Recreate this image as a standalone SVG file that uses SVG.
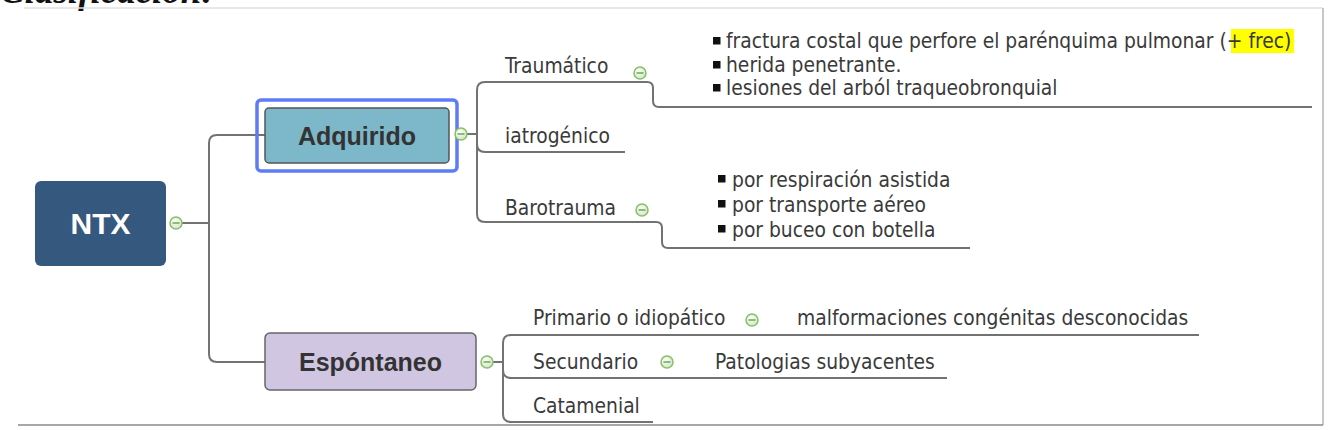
<svg xmlns="http://www.w3.org/2000/svg" width="1334" height="430" viewBox="0 0 1334 430">
<style>
.lbl{font-family:"DejaVu Sans Condensed","DejaVu Sans",sans-serif;font-stretch:condensed;font-size:20.8px;fill:#3a3a3a}
.big{font-family:"Liberation Sans",Arial,sans-serif;font-weight:bold;font-size:25px;fill:#333;text-anchor:middle}
.con{fill:none;stroke:#727272;stroke-width:2}
.frame{fill:none;stroke-width:1.5}
.bul{fill:#111}
</style>
<defs>
<radialGradient id="cg" cx="0.4" cy="0.35" r="0.7">
<stop offset="0" stop-color="#ffffff"/>
<stop offset="1" stop-color="#cfe3c4"/>
</radialGradient>
<g id="col">
<circle r="6" fill="url(#cg)" stroke="#86c066" stroke-width="1.5"/>
<line x1="-3.5" y1="0" x2="3.5" y2="0" stroke="#6aa84f" stroke-width="1.5"/>
</g>
</defs>
<rect width="1334" height="430" fill="#ffffff"/>
<text x="0" y="3" font-family="Liberation Serif,serif" font-weight="bold" font-style="italic" font-size="37" fill="#111">Clasificación:</text>
<line class="frame" x1="24" y1="8" x2="1323" y2="8" stroke="#e0e0e0"/>
<line class="frame" x1="1323" y1="8" x2="1323" y2="425" stroke="#b5b5b5"/>
<line class="frame" x1="18" y1="425" x2="1323" y2="425" stroke="#8a8a8a"/>

<g id="connectors">
<path class="con" d="M182,223 H209"/>
<path class="con" d="M209,223 V143 Q209,135 217,135 H265"/>
<path class="con" d="M209,223 V354 Q209,362 217,362 H265"/>
<path class="con" d="M467,134 H477"/>
<path class="con" d="M477,134 V90 Q477,82 485,82 H647 Q653,82 653,88 V101 Q653,107 659,107 H1312"/>
<path class="con" d="M477,134 V144 Q477,152 485,152 H625"/>
<path class="con" d="M477,134 V214 Q477,222 485,222 H656 Q662,222 662,228 V242 Q662,248 668,248 H970"/>
<path class="con" d="M493,362 H503"/>
<path class="con" d="M503,362 V343 Q503,335 511,335 H1199"/>
<path class="con" d="M503,362 V370 Q503,378 511,378 H947"/>
<path class="con" d="M503,362 V414 Q503,422 511,422 H653"/>
</g>

<g id="ntx">
<rect x="35" y="181" width="131" height="85" rx="6" fill="#35587f"/>
<text x="100.5" y="234" class="big" style="fill:#fff;font-size:30px">NTX</text>
<use href="#col" x="176" y="223"/>
</g>

<g id="adquirido">
<rect x="257" y="100" width="200" height="71" rx="4" fill="none" stroke="#5d7cf5" stroke-width="3.5"/>
<rect x="265" y="108" width="184" height="55" rx="4" fill="#7db7ca" stroke="#555" stroke-width="1.5"/>
<text x="357" y="144.5" class="big">Adquirido</text>
<use href="#col" x="461" y="134"/>
</g>

<g id="traumatico">
<text x="505" y="73" class="lbl">Traumático</text>
<use href="#col" x="640" y="73"/>
</g>

<g id="traumatico-items">
<rect x="1231" y="29" width="63" height="24" fill="#ffff00"/>
<rect class="bul" x="713" y="37" width="7.5" height="7.5"/>
<text x="726" y="48" class="lbl">fractura costal que perfore el parénquima pulmonar (+ frec)</text>
<rect class="bul" x="713" y="61" width="7.5" height="7.5"/>
<text x="726" y="72" class="lbl">herida penetrante.</text>
<rect class="bul" x="713" y="84" width="7.5" height="7.5"/>
<text x="726" y="95" class="lbl">lesiones del arból traqueobronquial</text>
</g>

<g id="iatrogenico">
<text x="505" y="143" class="lbl">iatrogénico</text>
</g>

<g id="barotrauma">
<text x="505" y="215" class="lbl">Barotrauma</text>
<use href="#col" x="642" y="210"/>
</g>

<g id="barotrauma-items">
<rect class="bul" x="718" y="175" width="7.5" height="7.5"/>
<text x="732" y="187" class="lbl">por respiración asistida</text>
<rect class="bul" x="718" y="200" width="7.5" height="7.5"/>
<text x="732" y="212" class="lbl">por transporte aéreo</text>
<rect class="bul" x="718" y="225" width="7.5" height="7.5"/>
<text x="732" y="237" class="lbl">por buceo con botella</text>
</g>

<g id="espontaneo">
<rect x="265" y="333" width="211" height="57" rx="5" fill="#d0c6e2" stroke="#666" stroke-width="1.5"/>
<text x="370.5" y="370.5" class="big">Espóntaneo</text>
<use href="#col" x="487" y="362"/>
</g>

<g id="primario">
<text x="533" y="325" class="lbl">Primario o idiopático</text>
<use href="#col" x="752" y="320"/>
</g>
<g id="malformaciones">
<text x="797" y="325" class="lbl">malformaciones congénitas desconocidas</text>
</g>

<g id="secundario">
<text x="533" y="369" class="lbl">Secundario</text>
<use href="#col" x="667" y="362"/>
</g>
<g id="patologias">
<text x="715" y="369" class="lbl">Patologias subyacentes</text>
</g>

<g id="catamenial">
<text x="533" y="413" class="lbl">Catamenial</text>
</g>
</svg>
